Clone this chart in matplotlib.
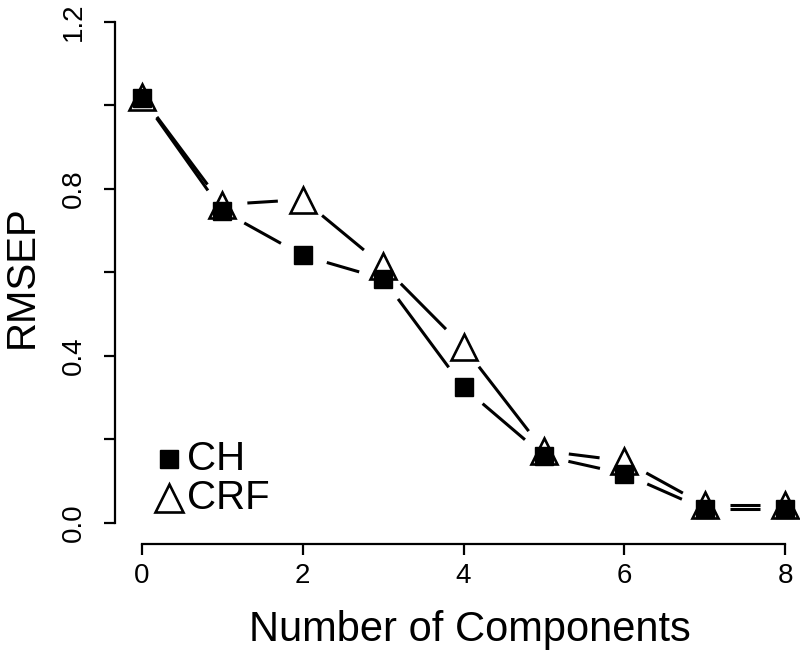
import numpy as np
import matplotlib.pyplot as plt

plt.rcParams['font.family'] = ['Liberation Sans', 'DejaVu Sans']

components = [0, 1, 2, 3, 4, 5, 6, 7, 8]
rmsep_ch = [1.018, 0.747, 0.640, 0.584, 0.324, 0.160, 0.117, 0.032, 0.032]
rmsep_crf = [1.020, 0.762, 0.774, 0.615, 0.421, 0.172, 0.148, 0.042, 0.042]
series_labels = ['CH', 'CRF']

W, H = 800, 654
fig = plt.figure(figsize=(W / 100, H / 100), dpi=100)
# axes box in pixels: left 115, right 792, top 10, bottom 544
ax = fig.add_axes([115 / W, (H - 544) / H, (792 - 115) / W, (544 - 10) / H])
ax.set_xlim(-0.336, 8.085)
ax.set_ylim(-0.051, 1.228)


def gapped_line(x, y, gap_px=25, **kw):
    # R type="b": segments stop short of each point
    pts = ax.transData.transform(np.column_stack([x, y]))
    inv = ax.transData.inverted()
    for p0, p1 in zip(pts[:-1], pts[1:]):
        d = p1 - p0
        n = np.hypot(*d)
        if n <= 2 * gap_px:
            continue
        u = d / n
        a = inv.transform(p0 + u * gap_px)
        b = inv.transform(p1 - u * gap_px)
        ax.plot([a[0], b[0]], [a[1], b[1]], color='black', lw=2.2,
                solid_capstyle='butt', **kw)


gapped_line(components, rmsep_crf)
gapped_line(components, rmsep_ch)

ax.plot(components, rmsep_crf, linestyle='none', marker='^', markersize=19,
        markerfacecolor='white', markeredgecolor='black', markeredgewidth=1.9,
        clip_on=False, zorder=3)
ax.plot(components, rmsep_ch, linestyle='none', marker='s', markersize=13,
        color='black', clip_on=False, zorder=4)

# legend drawn by hand, R style
ax.plot([0.0798], [0.159], transform=ax.transAxes, marker='s', markersize=13,
        color='black', linestyle='none')
ax.plot([0.0798], [0.086], transform=ax.transAxes, marker='^', markersize=20,
        markerfacecolor='white', markeredgecolor='black', markeredgewidth=1.9,
        linestyle='none')
ax.text(0.106, 0.159, series_labels[0], transform=ax.transAxes, fontsize=29,
        va='center', ha='left')
ax.text(0.106, 0.086, series_labels[1], transform=ax.transAxes, fontsize=29,
        va='center', ha='left')

for s in ['top', 'right']:
    ax.spines[s].set_visible(False)
ax.spines['left'].set_bounds(0, 1.2)
ax.spines['bottom'].set_bounds(0, 8)
ax.spines['left'].set_linewidth(1.6)
ax.spines['bottom'].set_linewidth(1.6)

yticks = [0.0, 0.2, 0.4, 0.6, 0.8, 1.0, 1.2]
ylabels = ['0.0', '', '0.4', '', '0.8', '', '1.2']
ax.set_yticks(yticks, labels=ylabels, rotation=90, va='center')
ax.set_xticks([0, 2, 4, 6, 8])
ax.tick_params(axis='both', length=8, width=1.6, labelsize=20)
ax.tick_params(axis='y', pad=12)
ax.tick_params(axis='x', pad=6)

ax.set_xlabel('Number of Components', fontsize=30)
ax.set_ylabel('RMSEP', fontsize=29)
ax.xaxis.set_label_coords((470 - 115) / 677, (544 - 610) / 534)
ax.yaxis.set_label_coords((41 - 115) / 677, 0.5)

plt.savefig('out.png', dpi=100)
plt.close()
